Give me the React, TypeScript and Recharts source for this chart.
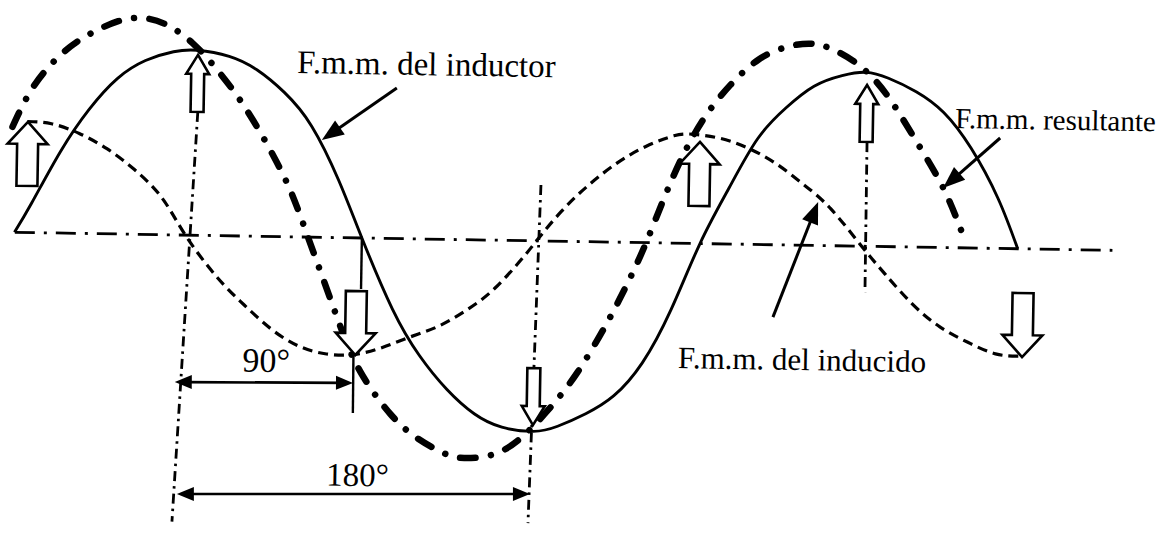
import { ComposedChart, Line, Scatter, XAxis, YAxis, ReferenceLine } from 'recharts'

// Ángulo eléctrico en grados y valor relativo (pico de la f.m.m. del inductor = 100)
const inductorDeg = [-9, 0, 15, 30, 45, 60, 75, 88, 105, 120, 135, 150, 165, 178, 195, 210, 225, 240, 255, 272, 285, 300, 315, 330, 345, 360, 375, 390, 405, 420, 435, 448, 460, 475, 490, 505, 520, 531]
const inductorVal = [0, 16, 44, 67, 84, 94, 99, 100, 97, 90, 78, 60, 31, 0, -38, -63, -81, -94, -101, -103, -100, -93, -83, -65, -36, 0, 30, 57, 74, 86, 92, 94, 91, 84, 73, 54, 27, 0]

const inducidoDeg = [-3, 10, 25, 40, 55, 70, 83, 100, 115, 130, 145, 160, 175, 190, 205, 220, 235, 250, 265, 272, 285, 300, 315, 330, 345, 355, 370, 385, 400, 415, 430, 447, 460, 475, 490, 505, 520, 533]
const inducidoVal = [60, 59, 54, 46, 35, 20, 0, -22, -37, -50, -59, -63, -63, -59, -53, -47, -38, -26, -9, 0, 16, 31, 43, 52, 58, 59, 57, 52, 44, 33, 20, 0, -15, -31, -43, -51, -57, -58]

const resultanteDeg = [-11, 0, 15, 30, 45, 57, 70, 85, 100, 115, 130, 140, 149, 160, 170, 180, 195, 210, 225, 235, 250, 265, 280, 295, 310, 320, 331, 345, 360, 375, 390, 405, 418, 430, 445, 460, 475, 490, 501]
const resultanteVal = [57, 79, 97, 108, 115, 117, 114, 104, 88, 68, 43, 23, 0, -29, -55, -75, -95, -108, -116, -118, -116, -107, -91, -71, -45, -25, 0, 36, 66, 86, 100, 107, 109, 106, 97, 81, 58, 33, 8]

// eje de referencia
const ejeDeg = [-8.8, 582]
const ejeVal = [0, 0]

// líneas verticales de trazo y punto
const guias = [
  [{ x: 88.6, y: 66.7 }, { x: 78.3, y: -155 }],
  [{ x: 273.9, y: 30.2 }, { x: 269.9, y: -152.6 }],
  [{ x: 449, y: 56.3 }, { x: 449.2, y: -24.8 }],
]
// marca fina en 90°
const marca90 = [
  [{ x: 178, y: 0 }, { x: 178, y: -27.6 }],
  [{ x: 174.5, y: -63.3 }, { x: 174.7, y: -94.7 }],
]
// cotas 90° y 180°
const cotas = [
  [{ x: 78.6, y: -79.5 }, { x: 174.5, y: -78.4 }],
  [{ x: 80.7, y: -140 }, { x: 270.7, y: -136.9 }],
]
// flechas de las leyendas (origen -> punta)
const flechasLeyenda = [
  [{ x: 195.5, y: 81.4 }, { x: 155.6, y: 52.6 }],
  [{ x: 520.6, y: 59.7 }, { x: 490.3, y: 32.2 }],
  [{ x: 399.9, y: -39.1 }, { x: 423.2, y: 23.5 }],
]

// flechas huecas: punta en (deg, v)
const flechas = [
  { deg: -2.7, v: 59.8, dir: 'up', curva: 'inducido' },
  { deg: 88.2, v: 97.5, dir: 'up', curva: 'inductor' },
  { deg: 175.5, v: -63.3, dir: 'down', curva: 'inducido' },
  { deg: 271.7, v: -99.6, dir: 'down', curva: 'inductor' },
  { deg: 359.1, v: 54.9, dir: 'up', curva: 'inducido' },
  { deg: 448.5, v: 87.2, dir: 'up', curva: 'inductor' },
  { deg: 534.3, v: -58.5, dir: 'down', curva: 'inducido' },
]

const textos = [
  { deg: 141.6, v: 88.6, text: 'F.m.m. del inductor', tipo: 'inductor' },
  { deg: 496.2, v: 64.7, text: 'F.m.m. resultante', tipo: 'resultante' },
  { deg: 349.2, v: -67.5, text: 'F.m.m. del inducido', tipo: 'inducido' },
  { deg: 127.6, v: -73.2, text: '90°', tipo: 'cota90' },
  { deg: 177.8, v: -134.1, text: '180°', tipo: 'cota180' },
]

const toPts = (degs: number[], vals: number[]) => degs.map((deg, i) => ({ deg, v: vals[i] }))

const FONT = "'Liberation Serif', 'Times New Roman', serif"
const estiloTexto: Record<string, { size: number; anchor: 'start' | 'middle' }> = {
  inductor: { size: 33, anchor: 'start' },
  resultante: { size: 29, anchor: 'start' },
  inducido: { size: 31, anchor: 'start' },
  cota90: { size: 34, anchor: 'middle' },
  cota180: { size: 33, anchor: 'middle' },
}

const GRANDE = { head: 20, headLen: 22, shaft: 10.5, len: 64 }
const PEQUE = { head: 11.5, headLen: 19, shaft: 6.5, len: 57 }

function FlechaHueca(props: any) {
  const { cx, cy, payload } = props
  const s = payload.curva === 'inducido' ? GRANDE : PEQUE
  const d = payload.dir === 'up' ? 1 : -1
  const pts = [
    [0, 0],
    [s.head, s.headLen],
    [s.shaft, s.headLen],
    [s.shaft, s.len],
    [-s.shaft, s.len],
    [-s.shaft, s.headLen],
    [-s.head, s.headLen],
  ]
    .map(([x, y]) => `${cx + x},${cy + d * y}`)
    .join(' ')
  return <polygon points={pts} fill="#fff" stroke="#000" strokeWidth={2.6} strokeLinejoin="miter" />
}

function Texto(props: any) {
  const { cx, cy, payload } = props
  const st = estiloTexto[payload.tipo]
  return (
    <text x={cx} y={cy} fontSize={st.size} fontFamily={FONT} textAnchor={st.anchor} fill="#000">
      {payload.text}
    </text>
  )
}

// línea con punta(s) de flecha rellenas
function conPunta(ambas: boolean, len: number, half: number, width: number) {
  return (p: any) => {
    const { x1, y1, x2, y2 } = p
    const a = Math.atan2(y2 - y1, x2 - x1)
    const punta = (x: number, y: number, ang: number) => {
      const bx = x - len * Math.cos(ang)
      const by = y - len * Math.sin(ang)
      const nx = -Math.sin(ang) * half
      const ny = Math.cos(ang) * half
      return <polygon points={`${x},${y} ${bx + nx},${by + ny} ${bx - nx},${by - ny}`} fill="#000" />
    }
    const k = len * 0.6
    const sx = ambas ? x1 + k * Math.cos(a) : x1
    const sy = ambas ? y1 + k * Math.sin(a) : y1
    return (
      <g>
        <line x1={sx} y1={sy} x2={x2 - k * Math.cos(a)} y2={y2 - k * Math.sin(a)} stroke="#000" strokeWidth={width} />
        {punta(x2, y2, a)}
        {ambas && punta(x1, y1, a + Math.PI)}
      </g>
    )
  }
}

export default function App() {
  const inductor = toPts(inductorDeg, inductorVal)
  const inducido = toPts(inducidoDeg, inducidoVal)
  const resultante = toPts(resultanteDeg, resultanteVal)
  const eje = toPts(ejeDeg, ejeVal)

  return (
    <div
      style={{
        position: 'absolute',
        left: 0,
        top: 0,
        width: 1165,
        height: 538,
        background: '#fff',
        transform: 'rotate(0.94deg)',
        transformOrigin: '582.5px 269px',
      }}
    >
      <ComposedChart width={1165} height={538} margin={{ top: 0, right: 0, bottom: 0, left: 0 }}>
        <XAxis type="number" dataKey="deg" domain={[-16.5, 610.5]} hide allowDataOverflow />
        <YAxis type="number" domain={[-160.2, 130.6]} hide allowDataOverflow />

        {/* eje horizontal */}
        <Line
          data={eje}
          dataKey="v"
          type="linear"
          stroke="#000"
          strokeWidth={2.8}
          strokeDasharray="20 9 3 9"
          dot={false}
          activeDot={false}
          isAnimationActive={false}
        />

        {guias.map((seg, i) => (
          <ReferenceLine
            key={`g${i}`}
            segment={seg}
            stroke="#000"
            strokeWidth={2.8}
            strokeDasharray="10 5 2.5 5"
            ifOverflow="visible"
          />
        ))}
        {marca90.map((seg, i) => (
          <ReferenceLine key={`m${i}`} segment={seg} stroke="#000" strokeWidth={2.4} ifOverflow="visible" />
        ))}

        {/* f.m.m. del inducido */}
        <Line
          data={inducido}
          dataKey="v"
          type="natural"
          stroke="#000"
          strokeWidth={3.2}
          strokeDasharray="10 6"
          dot={false}
          activeDot={false}
          isAnimationActive={false}
        />
        {/* f.m.m. del inductor */}
        <Line
          data={inductor}
          dataKey="v"
          type="natural"
          stroke="#000"
          strokeWidth={2.9}
          dot={false}
          activeDot={false}
          isAnimationActive={false}
        />
        {/* f.m.m. resultante */}
        <Line
          data={resultante}
          dataKey="v"
          type="natural"
          stroke="#000"
          strokeWidth={6.5}
          strokeLinecap="round"
          strokeDasharray="15.5 15.5 0.01 15.5"
          dot={false}
          activeDot={false}
          isAnimationActive={false}
        />

        {cotas.map((seg, i) => (
          <ReferenceLine key={`c${i}`} segment={seg} ifOverflow="visible" shape={conPunta(true, 17, 7, 2.6)} />
        ))}
        {flechasLeyenda.map((seg, i) => (
          <ReferenceLine key={`f${i}`} segment={seg} ifOverflow="visible" shape={conPunta(false, 22, 8.5, 3)} />
        ))}

        <Scatter data={flechas} dataKey="v" shape={FlechaHueca} isAnimationActive={false} />
        <Scatter data={textos} dataKey="v" shape={Texto} isAnimationActive={false} />
      </ComposedChart>
    </div>
  )
}
